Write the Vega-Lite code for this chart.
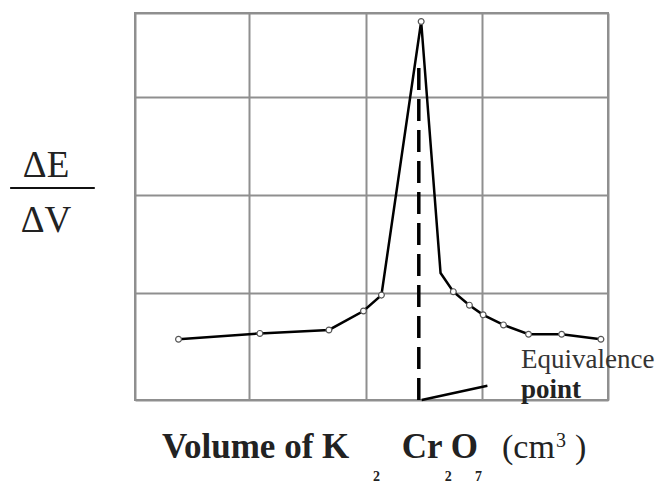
{
  "$schema": "https://vega.github.io/schema/vega-lite/v6.json",
  "width": 473,
  "height": 387,
  "autosize": "none",
  "padding": {"left": 135, "top": 13, "right": 56, "bottom": 84},
  "background": "white",
  "config": {
    "view": {"stroke": "#8f8f8f", "strokeWidth": 2},
    "axis": {"labels": false, "ticks": false, "domain": false, "title": null, "grid": true, "gridColor": "#8f8f8f", "gridWidth": 2, "gridOpacity": 1}
  },
  "datasets": {
    "curve": [
      {"x": 0.92, "y": 1.57, "marker": "yes"},
      {"x": 2.64, "y": 1.72, "marker": "yes"},
      {"x": 4.10, "y": 1.81, "marker": "yes"},
      {"x": 4.83, "y": 2.30, "marker": "yes"},
      {"x": 5.21, "y": 2.71, "marker": "yes"},
      {"x": 6.05, "y": 9.78, "marker": "yes"},
      {"x": 6.46, "y": 3.28, "marker": "no"},
      {"x": 6.73, "y": 2.80, "marker": "yes"},
      {"x": 7.07, "y": 2.45, "marker": "yes"},
      {"x": 7.36, "y": 2.20, "marker": "yes"},
      {"x": 7.79, "y": 1.94, "marker": "yes"},
      {"x": 8.32, "y": 1.70, "marker": "yes"},
      {"x": 9.02, "y": 1.70, "marker": "yes"},
      {"x": 9.85, "y": 1.57, "marker": "yes"}
    ],
    "labels": [
      {"role": "titleBold", "text": "Volume of K", "x": 0.57, "y": -1.5},
      {"role": "titleBold", "text": "Cr O", "x": 5.64, "y": -1.5},
      {"role": "titleReg", "text": "(cm", "x": 7.76, "y": -1.5},
      {"role": "titleReg", "text": ")", "x": 9.3, "y": -1.5},
      {"role": "sup", "text": "3", "x": 8.9, "y": -1.21},
      {"role": "sub", "text": "2", "x": 5.03, "y": -2.1},
      {"role": "sub", "text": "2", "x": 6.55, "y": -2.1},
      {"role": "sub", "text": "7", "x": 7.19, "y": -2.1},
      {"role": "ylab", "text": "ΔE", "x": -1.88, "y": 5.76},
      {"role": "ylab", "text": "ΔV", "x": -1.88, "y": 4.34},
      {"role": "equiv", "text": "Equivalence", "x": 8.16, "y": 0.83},
      {"role": "point", "text": "point", "x": 8.16, "y": 0.05}
    ]
  },
  "layer": [
    {
      "data": {"name": "curve"},
      "mark": {"type": "line", "color": "black", "strokeWidth": 2.5},
      "encoding": {
        "x": {"field": "x", "type": "quantitative", "scale": {"domain": [0, 10], "nice": false, "zero": false}, "axis": {"values": [0, 2.41, 4.88, 7.34, 10]}},
        "y": {"field": "y", "type": "quantitative", "scale": {"domain": [0, 10], "nice": false, "zero": false}, "axis": {"values": [0, 2.76, 5.30, 7.83, 10]}}
      }
    },
    {
      "data": {"values": [{"x": 6.0, "y": 0, "y2": 8.6}]},
      "mark": {"type": "rule", "color": "black", "strokeWidth": 3.5, "strokeDash": [22, 9]},
      "encoding": {
        "x": {"field": "x", "type": "quantitative"},
        "y": {"field": "y", "type": "quantitative"},
        "y2": {"field": "y2"}
      }
    },
    {
      "data": {"values": [{"x": 6.06, "y": 0, "x2": 7.45, "y2": 0.37}]},
      "mark": {"type": "rule", "color": "black", "strokeWidth": 2.5},
      "encoding": {
        "x": {"field": "x", "type": "quantitative"},
        "y": {"field": "y", "type": "quantitative"},
        "x2": {"field": "x2"},
        "y2": {"field": "y2"}
      }
    },
    {
      "data": {"values": [{"x": -2.64, "x2": -0.85, "y": 5.48}]},
      "mark": {"type": "rule", "color": "#111", "strokeWidth": 2, "clip": false},
      "encoding": {
        "x": {"field": "x", "type": "quantitative"},
        "x2": {"field": "x2"},
        "y": {"field": "y", "type": "quantitative"}
      }
    },
    {
      "data": {"name": "curve"},
      "transform": [{"filter": "datum.marker === 'yes'"}],
      "mark": {"type": "point", "shape": "circle", "filled": true, "fill": "white", "stroke": "#555", "strokeWidth": 1.2, "size": 34, "opacity": 1},
      "encoding": {
        "x": {"field": "x", "type": "quantitative"},
        "y": {"field": "y", "type": "quantitative"}
      }
    },
    {
      "data": {"name": "labels"},
      "transform": [{"filter": "datum.role === 'titleBold'"}],
      "mark": {"type": "text", "font": "Liberation Serif", "fontSize": 35, "fontWeight": "bold", "align": "left", "baseline": "alphabetic", "color": "#222", "clip": false},
      "encoding": {"x": {"field": "x", "type": "quantitative"}, "y": {"field": "y", "type": "quantitative"}, "text": {"field": "text"}}
    },
    {
      "data": {"name": "labels"},
      "transform": [{"filter": "datum.role === 'titleReg'"}],
      "mark": {"type": "text", "font": "Liberation Serif", "fontSize": 34, "align": "left", "baseline": "alphabetic", "color": "#222", "clip": false},
      "encoding": {"x": {"field": "x", "type": "quantitative"}, "y": {"field": "y", "type": "quantitative"}, "text": {"field": "text"}}
    },
    {
      "data": {"name": "labels"},
      "transform": [{"filter": "datum.role === 'sup'"}],
      "mark": {"type": "text", "font": "Liberation Serif", "fontSize": 20, "align": "left", "baseline": "alphabetic", "color": "#222", "clip": false},
      "encoding": {"x": {"field": "x", "type": "quantitative"}, "y": {"field": "y", "type": "quantitative"}, "text": {"field": "text"}}
    },
    {
      "data": {"name": "labels"},
      "transform": [{"filter": "datum.role === 'sub'"}],
      "mark": {"type": "text", "font": "Liberation Serif", "fontSize": 14, "fontWeight": "bold", "align": "left", "baseline": "alphabetic", "color": "#222", "clip": false},
      "encoding": {"x": {"field": "x", "type": "quantitative"}, "y": {"field": "y", "type": "quantitative"}, "text": {"field": "text"}}
    },
    {
      "data": {"name": "labels"},
      "transform": [{"filter": "datum.role === 'ylab'"}],
      "mark": {"type": "text", "font": "Liberation Serif", "fontSize": 37, "align": "center", "baseline": "alphabetic", "color": "#222", "clip": false},
      "encoding": {"x": {"field": "x", "type": "quantitative"}, "y": {"field": "y", "type": "quantitative"}, "text": {"field": "text"}}
    },
    {
      "data": {"name": "labels"},
      "transform": [{"filter": "datum.role === 'equiv'"}],
      "mark": {"type": "text", "font": "Liberation Serif", "fontSize": 27, "align": "left", "baseline": "alphabetic", "color": "#333", "clip": false},
      "encoding": {"x": {"field": "x", "type": "quantitative"}, "y": {"field": "y", "type": "quantitative"}, "text": {"field": "text"}}
    },
    {
      "data": {"name": "labels"},
      "transform": [{"filter": "datum.role === 'point'"}],
      "mark": {"type": "text", "font": "Liberation Serif", "fontSize": 27, "fontWeight": "bold", "align": "left", "baseline": "alphabetic", "color": "#222", "clip": false},
      "encoding": {"x": {"field": "x", "type": "quantitative"}, "y": {"field": "y", "type": "quantitative"}, "text": {"field": "text"}}
    }
  ]
}
